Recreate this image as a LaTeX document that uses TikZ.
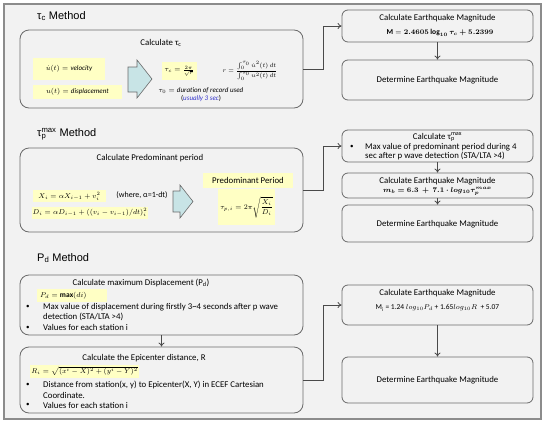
\documentclass[tikz,border=0pt]{standalone}
\usepackage{fontspec}
\usepackage{amsmath,bm}
\setmainfont{Carlito}
\newfontfamily\titlefont{Liberation Sans}
\usetikzlibrary{arrows.meta}
\definecolor{bgc}{HTML}{F2F2F2}
\definecolor{framec}{HTML}{8C8C8C}
\definecolor{boxc}{HTML}{6A6A6A}
\definecolor{yel}{HTML}{FFFFC4}
\definecolor{arrc}{HTML}{C8E4E6}
\definecolor{linkc}{HTML}{4A4A4A}
\definecolor{bluet}{HTML}{3333CC}
\tikzset{
  bigbox/.style={draw=boxc, line width=0.8pt, rounded corners=9pt, fill=bgc, inner sep=0pt},
  rbox/.style={draw=boxc, line width=0.8pt, rounded corners=6pt, fill=bgc, inner sep=0pt, minimum width=191pt},
  yelbox/.style={fill=yel, inner sep=1pt, font=\fontsize{7}{8}\selectfont},
  txt/.style={font=\fontsize{8.8}{10}\selectfont, inner sep=0pt},
  mth/.style={font=\fontsize{7}{8}\selectfont, inner sep=0pt},
  mthb/.style={font=\fontsize{7.5}{9}\selectfont, inner sep=0pt},
  bul/.style={font=\fontsize{7}{8}\selectfont, inner sep=0pt, anchor=west},
  ttl/.style={font=\titlefont\fontsize{11}{12}\selectfont, inner sep=0pt, anchor=west},
  conn/.style={draw=linkc, line width=0.8pt, -{To[length=4pt,width=6pt]}},
  blockarrow/.style={draw=boxc, line width=0.6pt, fill=arrc}
}
\begin{document}
\begin{tikzpicture}[x=1pt,y=-1pt]
\useasboundingbox (0,0) rectangle (550,426);
\fill[white] (0,0) rectangle (550,426);
\draw[framec, line width=1.5pt, fill=bgc] (4,4) rectangle (541,419);

% titles
\node[ttl] (t1) at (37,16) {τ\textsubscript{c} Method};
\node[ttl] (t2) at (37,134) {τ\rlap{\textsubscript{p}}\textsuperscript{max} Method};
\node[ttl] (t3) at (37,258) {P\textsubscript{d} Method};

% left boxes
\node[bigbox, minimum width=283pt, minimum height=78pt] (b1) at (161.5,69) {};
\node[bigbox, minimum width=283pt, minimum height=84pt] (b2) at (161.5,190) {};
\node[bigbox, minimum width=283pt, minimum height=60pt] (b3) at (161.5,305) {};
\node[bigbox, minimum width=283pt, minimum height=66pt] (b4) at (161.5,380) {};

% right boxes
\node[rbox, minimum height=32pt] (r1) at (437.5,26) {};
\node[rbox, minimum height=40pt] (r2) at (437.5,80) {};
\node[rbox, minimum height=32pt] (r3) at (437.5,146) {};
\node[rbox, minimum height=25pt] (r4) at (437.5,185.5) {};
\node[rbox, minimum height=37pt] (r5) at (437.5,223.5) {};
\node[rbox, minimum height=40pt] (r6) at (437.5,305) {};
\node[rbox, minimum height=46pt] (r7) at (437.5,380) {};

% box 1 content
\node[txt] (c1) at (161,43) {Calculate τ\textsubscript{c}};
\node[yelbox, minimum width=72pt, minimum height=22pt] (y1) at (69,69) {$\dot u(t) = \mathit{velocity}$};
\node[yelbox, minimum width=89pt, minimum height=14pt] (y2) at (77.5,91.5) {$u(t) = \mathit{displacement}$};
\draw[blockarrow] (128,67) -- (137,67) -- (137,60) -- (152,79) -- (137,98) -- (137,92) -- (128,92) -- cycle;
\node[yelbox, minimum width=35pt, minimum height=18pt] (y3) at (179.5,71) {$\tau_c=\frac{2\pi}{\sqrt{r}}$};
\node[mth, font=\fontsize{6.5}{7.5}\selectfont] (rf) at (250,71) {$r=\dfrac{\int_0^{\tau_0}\dot u^2(t)\,dt}{\int_0^{\tau_0}u^2(t)\,dt}$};
\node[mth] (d1) at (201,90.5) {$\tau_0 = \mathit{duration\ of\ record\ used}$};
\node[mth] (d2) at (201,99) {(\textcolor{bluet}{$\mathit{usually\ 3\ sec}$})};

% box 2 content
\node[txt] (c2) at (150,158) {Calculate Predominant period};
\node[yelbox, minimum width=73pt, minimum height=12pt] (y4) at (69.5,196) {$X_i = \alpha X_{i-1} + v_i^2$};
\node[txt, font=\fontsize{8}{9}\selectfont] (wh) at (142,195) {(where, α=1-dt)};
\node[yelbox, minimum width=114pt, minimum height=12pt] (y5) at (90,212.5) {$D_i = \alpha D_{i-1} + ((v_i - v_{i-1})/dt)_i^2$};
\draw[blockarrow] (173,191) -- (180,191) -- (180,185) -- (193,201.5) -- (180,218) -- (180,212) -- (173,212) -- cycle;
\node[yelbox, minimum width=90pt, minimum height=15pt, font=\fontsize{8.8}{10}\selectfont] (y6) at (248,180.5) {Predominant Period};
\node[yelbox, minimum width=57pt, minimum height=36pt] (y7) at (246.5,207) {$\tau_{p,i} = 2\pi\sqrt{\dfrac{X_i}{D_i}}$};

% box 3 content
\node[txt] (c3) at (141,283) {Calculate maximum Displacement (P\textsubscript{d})};
\node[yelbox, minimum width=70pt, minimum height=13pt, text width=64pt, align=left, font=\fontsize{7.5}{9}\selectfont] (y8) at (72,295.5) {$P_d = \mathbf{max}(di)$};
\node[bul] (b3a) at (26,307) {•};
\node[txt, anchor=west] (b3b) at (43,307) {Max value of displacement during firstly 3\textasciitilde 4 seconds after p wave};
\node[txt, anchor=west] (b3c) at (43,317) {detection (STA/LTA >4)};
\node[bul] (b3d) at (26,327.5) {•};
\node[txt, anchor=west] (b3e) at (43,327.5) {Values for each station i};

% box 4 content
\node[txt] (c4) at (144,358) {Calculate the Epicenter distance, R};
\node[yelbox, minimum width=95pt, minimum height=13pt, font=\fontsize{7}{8}\selectfont] (y9) at (84.5,371) {$R_i = \sqrt{(x^i-X)^2+(y^i-Y)^2}$};
\node[bul] (b4a) at (26,385) {•};
\node[txt, anchor=west] (b4b) at (43,385) {Distance from station(x, y) to Epicenter(X, Y) in ECEF Cartesian};
\node[txt, anchor=west] (b4c) at (43,395) {Coordinate.};
\node[bul] (b4d) at (26,405) {•};
\node[txt, anchor=west] (b4e) at (43,405) {Values for each station i};

% right box texts
\node[txt] (r1a) at (437.5,18) {Calculate Earthquake Magnitude};
\node[mthb] (r1b) at (440,33) {$\mathbf{M} = \bm{2.4605\log_{10}\tau_c + 5.2399}$};
\node[txt] (r2a) at (437.5,80) {Determine Earthquake Magnitude};
\node[txt] (r3a) at (437.5,137) {Calculate τ\rlap{\textsubscript{p}}\textsuperscript{max}};
\node[bul] (r3b) at (350,147) {•};
\node[txt, anchor=west] (r3c) at (365,147) {Max value of predominant period during 4};
\node[txt, anchor=west] (r3d) at (365,156) {sec after p wave detection (STA/LTA >4)};
\node[txt] (r4a) at (437.5,181) {Calculate Earthquake Magnitude};
\node[mthb] (r4b) at (437.5,191.5) {$\bm{m_b = 6.3\ +\ 7.1\cdot log_{10}\tau_p^{max}}$};
\node[txt] (r5a) at (437.5,224) {Determine Earthquake Magnitude};
\node[txt] (r6a) at (437.5,293) {Calculate Earthquake Magnitude};
\node[mthb] (r6b) at (437.5,308) {M\textsubscript{i} = 1.24 $log_{10}P_d$ + 1.65$log_{10}R$\ \ + 5.07};
\node[txt] (r7a) at (437.5,380) {Determine Earthquake Magnitude};

% connectors
\draw[conn] (b1.east) -- ++(20,0) |- (r1.west);
\draw[conn] (b2.east) -- ++(20,0) |- (r3.west);
\draw[conn] (b4.east) -- ++(20,0) |- (r6.west);
\draw[conn] (r1.south) -- (r2.north);
\draw[conn] (r3.south) -- (r4.north);
\draw[conn] (r4.south) -- (r5.north);
\draw[conn] (r6.south) -- (r7.north);
\draw[conn] (b3.south) -- (b4.north);
\end{tikzpicture}
\end{document}
